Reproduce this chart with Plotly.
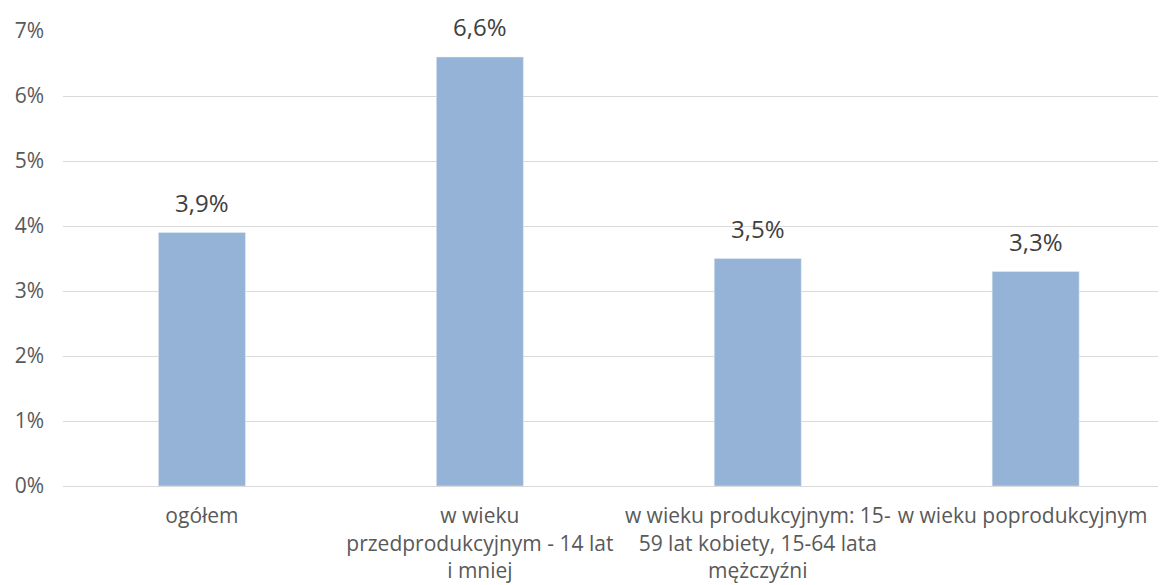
import plotly.graph_objects as go

categories = [
    "ogółem",
    "w wieku<br>przedprodukcyjnym - 14 lat<br>i mniej",
    "w wieku produkcyjnym: 15-<br>59 lat kobiety, 15-64 lata<br>mężczyźni",
    "w wieku poprodukcyjnym",
]
values = [3.9, 6.6, 3.5, 3.3]
tick_vals = [0, 1, 2, 3, 4, 5, 6, 7]
tick_text = ["0%", "1%", "2%", "3%", "4%", "5%", "6%", "7%"]

# category label positions (last label nudged left to fit, as in the reference)
x_label_pos = [0, 1, 2, 2.953]

fig = go.Figure(
    go.Bar(
        x=categories,
        y=values,
        marker_color="#95B3D7",
        hoverinfo="skip",
    )
)
for c, v in zip(categories, values):
    fig.add_annotation(
        x=c,
        y=v,
        text=f"{v:.1f}%".replace(".", ","),
        showarrow=False,
        yanchor="bottom",
        yshift=12,
        font=dict(family="Open Sans", size=24, color="#404040"),
    )
fig.update_layout(
    width=1158,
    height=577,
    margin=dict(l=55, r=0, t=23, b=99, autoexpand=False),
    paper_bgcolor="white",
    plot_bgcolor="white",
    bargap=0.687,
    font=dict(family="Open Sans", size=21, color="#595959"),
    showlegend=False,
)
fig.update_yaxes(
    range=[0, 7],
    tickmode="array",
    tickvals=tick_vals,
    ticktext=tick_text,
    showgrid=True,
    gridcolor="#D9D9D9",
    gridwidth=1.3,
    zeroline=False,
    showline=False,
    ticklabelstandoff=18,
    tickfont=dict(size=21, color="#595959"),
    automargin=False,
)
fig.update_xaxes(
    type="category",
    range=[-0.5, 3.469],
    tickmode="array",
    tickvals=x_label_pos,
    ticktext=categories,
    showgrid=False,
    showline=True,
    linecolor="#D9D9D9",
    linewidth=1.3,
    tickfont=dict(size=21, color="#595959"),
    ticklabelstandoff=11,
    automargin=False,
)
fig.write_html("out.html")
